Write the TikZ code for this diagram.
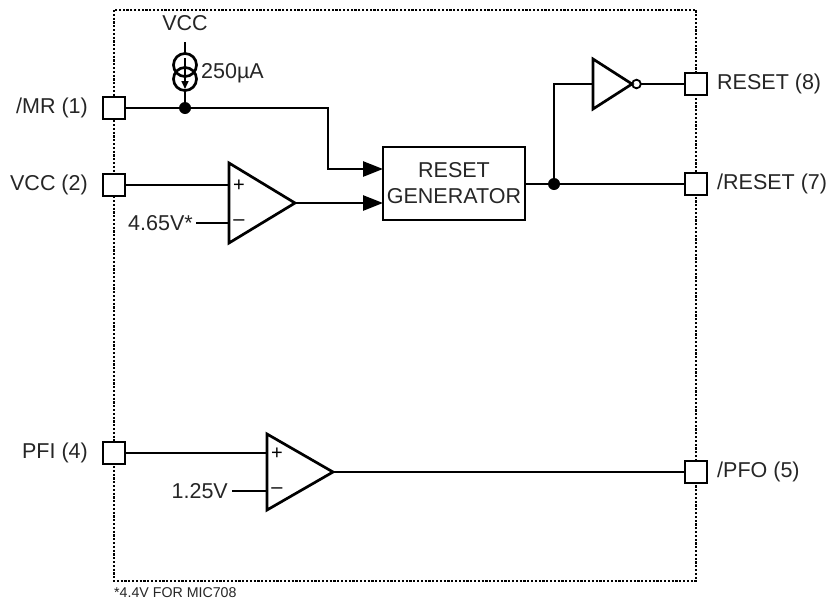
\documentclass[tikz,border=0pt]{standalone}
\usepackage{fontspec}
\setmainfont{Liberation Sans}
\usetikzlibrary{arrows.meta,calc}
\begin{document}
\begin{tikzpicture}[x=1pt,y=-1pt,
 wire/.style={line width=2.7pt},
 pin/.style={draw,line width=2.7pt,minimum size=22pt,inner sep=0pt,fill=white},
 lbl/.style={font=\fontsize{21.5}{26}\selectfont,inner sep=0pt,text=black!85},
 sgn/.style={font=\fontsize{20}{20}\selectfont,inner sep=0pt},
 arr/.style={-{Triangle[length=20pt,width=15pt]}},
 jdot/.style={circle,fill=black,inner sep=0pt,minimum size=12pt}]
\useasboundingbox (0,0) rectangle (826,608);
\fill[white] (0,0) rectangle (826,608);
% package outline
\draw[line width=2.6pt, dash pattern=on 2.2pt off 1.6pt] (114,10) rectangle (696,581);
% pins
\node[pin] (mr) at (114,108) {};
\node[pin] (vcc2) at (114,185) {};
\node[pin] (pfi) at (114,453) {};
\node[pin] (rst8) at (696,84) {};
\node[pin] (rst7) at (696,184) {};
\node[pin] (pfo) at (696,472) {};
% pin labels
\node[lbl,anchor=east] (lmr) at (88,108) {/MR (1)};
\node[lbl,anchor=east] (lvcc) at (88,185) {VCC (2)};
\node[lbl,anchor=east] (lpfi) at (88,453) {PFI (4)};
\node[lbl,anchor=west] (lr8) at (717,84) {RESET (8)};
\node[lbl,anchor=west] (lr7) at (717,184) {/RESET (7)};
\node[lbl,anchor=west] (lpfo) at (717,472) {/PFO (5)};
% reset generator
\node[draw,line width=2.7pt,minimum width=142pt,minimum height=73pt,align=center,lbl] (rg) at (454,183.5) {RESET\\GENERATOR};
\coordinate (rgin1) at (383,169);
\coordinate (rgin2) at (383,203);
% current source
\node[lbl] (lvccs) at (185,23) {VCC};
\coordinate (cs0) at (185,42);
\coordinate (cs1) at (185,54);
\coordinate (cs2) at (185,91);
\draw[wire] (cs0) -- (cs1);
\draw[wire] (185,65) circle[radius=11.5pt];
\draw[wire] (185,79) circle[radius=11.5pt];
\draw[line width=1.6pt,-{Triangle[length=8pt,width=7pt]}] (185,58) -- (185,89);
\node[lbl,anchor=west] (lcur) at (201,73) {250µA};
\node[jdot] (j1) at (185,108) {};
\draw[wire] (cs2) -- (j1);
% MR line
\draw[wire] (mr.east) -- (j1);
\draw[wire,arr] (j1.center) -- (328,108) |- (rgin1);
% comparator 1
\draw[wire,line join=miter] (229,163) -- (295,203) -- (229,243) -- cycle;
\coordinate (c1p) at (229,185);
\coordinate (c1m) at (229,223);
\coordinate (c1o) at (295,203);
\node[sgn] at (239,186) {+};
\node[sgn] at (239,223) {–};
\draw[wire] (vcc2.east) -- (c1p);
\node[lbl,anchor=east] (l465) at (193,223) {4.65V*};
\coordinate (r1) at (196,223);
\draw[wire] (r1) -- (c1m);
\draw[wire,arr] (c1o) -- (rgin2);
% output / inverter
\node[jdot] (j2) at (554,184) {};
\draw[wire] (rg.east |- j2) -- (j2) -- (rst7.west);
\draw[wire,line join=miter] (593,59) -- (632,84) -- (593,109) -- cycle;
\coordinate (invin) at (593,84);
\draw[line width=1.8pt] (636.5,84) circle[radius=4.3pt];
\coordinate (invout) at (640.8,84);
\draw[wire] (j2.center) |- (invin);
\draw[wire] (invout) -- (rst8.west);
% comparator 2
\draw[wire,line join=miter] (267,434) -- (333,472) -- (267,510) -- cycle;
\coordinate (c2p) at (267,453);
\coordinate (c2m) at (267,491);
\coordinate (c2o) at (333,472);
\node[sgn] at (277,454) {+};
\node[sgn] at (277,491) {–};
\draw[wire] (pfi.east) -- (c2p);
\node[lbl,anchor=east] (l125) at (228,491) {1.25V};
\coordinate (r2) at (232,491);
\draw[wire] (r2) -- (c2m);
\draw[wire] (c2o) -- (pfo.west);
% footnote
\node[font=\fontsize{14.2}{16}\selectfont,anchor=west,inner sep=0pt,text=black!85] (fn) at (114,593) {*4.4V FOR MIC708};
\end{tikzpicture}
\end{document}
